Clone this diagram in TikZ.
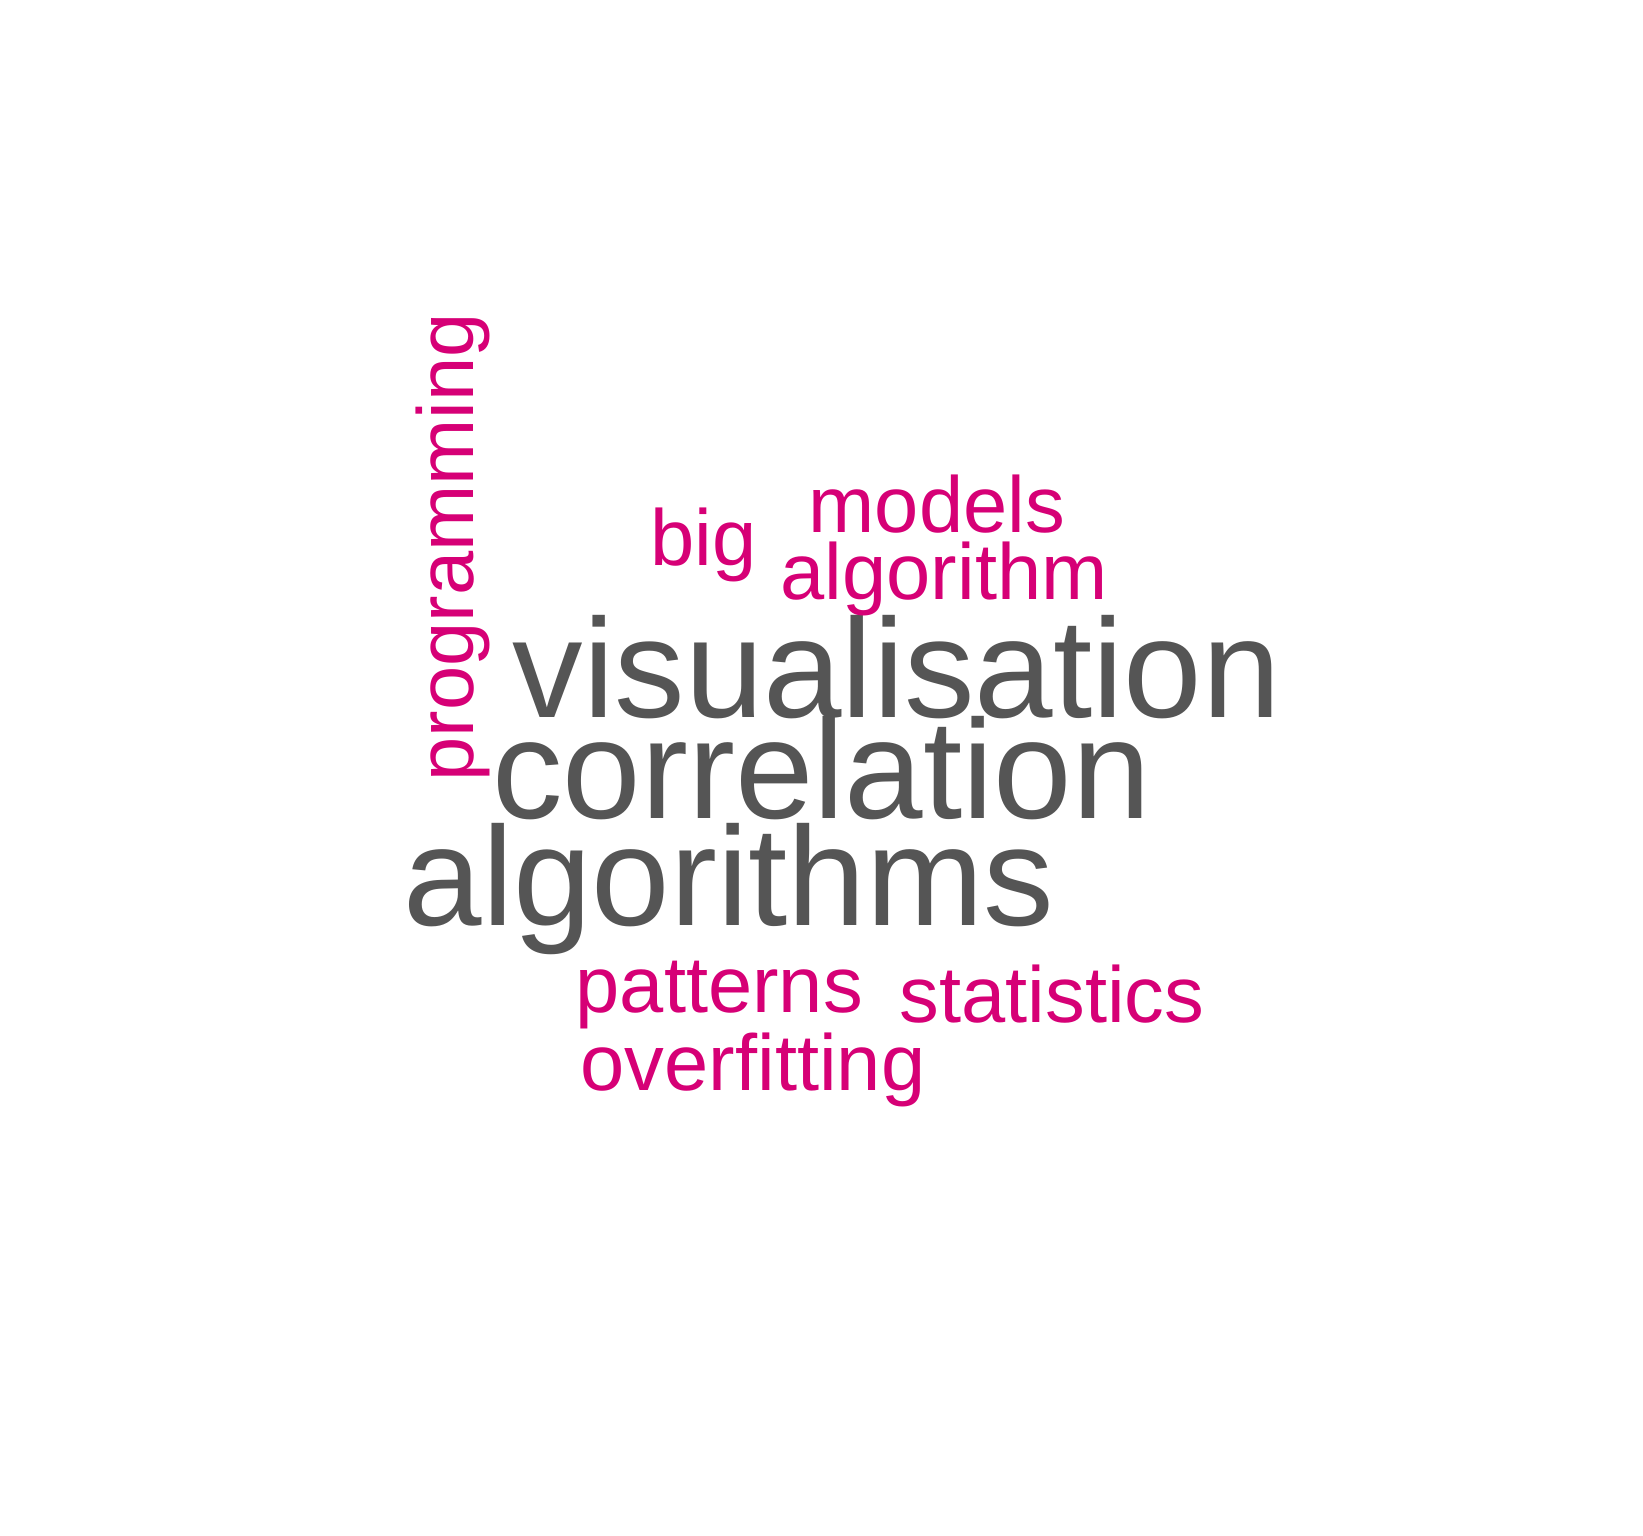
\documentclass[tikz,border=0pt]{standalone}
\usepackage{fontspec}
\setmainfont[Ligatures=CommonOff]{Liberation Sans}
\usepackage{xcolor}
\usepackage{tikz}
\definecolor{cloudgray}{RGB}{85,85,85}
\definecolor{cloudpink}{RGB}{214,0,118}

\begin{document}
\begin{tikzpicture}[x=0.01cm, y=-0.01cm,
    word/.style={inner sep=0pt, anchor=base west},
    bigword/.style={word, text=cloudgray, font=\fontsize{40.1pt}{48pt}\selectfont},
    smallword/.style={word, text=cloudpink, font=\fontsize{22.6pt}{27pt}\selectfont}]
            \useasboundingbox (0,0) rectangle (1643,1535);
            % large words
            \node[bigword] (visualisation) at (512,717) {visualisation};
            \node[bigword] (correlation) at (491.5,818) {correlation};
            \node[bigword] (algorithms) at (403,925) {algorithms};
            % small words
            \node[smallword, rotate=90] (programming) at (473,782) {programming};
            \node[smallword] (big) at (650,565) {big};
            \node[smallword] (models) at (808,532) {models};
            \node[smallword] (algorithm) at (780,599) {algorithm};
            \node[smallword] (patterns) at (575,1012) {patterns};
            \node[smallword] (statistics) at (899,1022) {statistics};
            \node[smallword] (overfitting) at (580,1090) {overfitting};
        \end{tikzpicture}
\end{document}
